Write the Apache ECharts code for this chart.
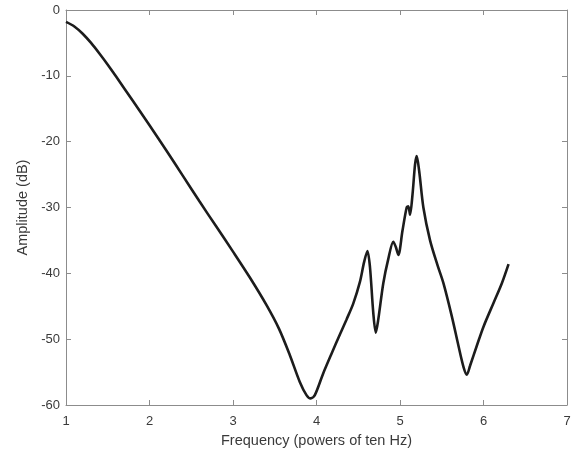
<!DOCTYPE html>
<html>
<head>
<meta charset="utf-8">
<script src="https://cdn.jsdelivr.net/npm/echarts@6/dist/echarts.min.js"></script>
<style>
  html, body { margin: 0; padding: 0; background: #fff; }
  #chart { width: 581px; height: 461px; }
</style>
</head>
<body>
<div id="chart"></div>
<script>
// frequency (log10 Hz) and amplitude (dB)
var freq = [1.0, 1.1, 1.2, 1.3, 1.4, 1.5, 1.6, 1.8, 2.0, 2.2, 2.4, 2.6, 2.8, 3.0, 3.2, 3.4, 3.55, 3.68, 3.8, 3.88, 3.93, 3.98,
  4.08, 4.18, 4.28, 4.36, 4.44, 4.52, 4.57, 4.61, 4.64, 4.68, 4.71, 4.74, 4.8, 4.86, 4.92, 4.95, 4.98,
  5.03, 5.08, 5.1, 5.12, 5.15, 5.18, 5.2, 5.23, 5.28, 5.36, 5.45, 5.52, 5.62, 5.7, 5.76, 5.8, 5.84,
  5.92, 6.0, 6.12, 6.22, 6.3];
var amp = [-1.8, -2.5, -3.6, -5.0, -6.6, -8.3, -10.1, -13.8, -17.5, -21.3, -25.2, -29.1, -32.9, -36.7, -40.6, -44.8, -48.4, -52.4, -56.5, -58.5, -59.0, -58.5,
  -55.2, -52.2, -49.3, -47.0, -44.6, -41.3, -38.3, -36.6, -39.0, -46.0, -49.0, -47.0, -41.5, -37.8, -35.2, -36.0, -37.2,
  -33.5, -30.0, -29.8, -31.1, -28.0, -23.5, -22.2, -24.5, -30.0, -35.0, -38.8, -41.5, -46.5, -51.0, -54.2, -55.4, -54.0,
  -51.0, -48.1, -44.5, -41.5, -38.6];

var axisGrey = '#8c8c8c';
var textGrey = '#3a3a3a';
var font = 'Liberation Sans, Arial, sans-serif';

var points = [];
for (var i = 0; i < freq.length; i++) {
  points.push([freq[i], amp[i]]);
}

// top / right copies of the axes, ticks only (matlab "box on")
function mirror(base) {
  return Object.assign({
    min: base.min, max: base.max, interval: base.interval,
    axisLine: { show: true, onZero: false, lineStyle: { color: axisGrey, width: 1 } },
    axisTick: { show: true, inside: true, length: 5, lineStyle: { color: axisGrey } },
    axisLabel: { show: false },
    splitLine: { show: false }
  }, base.extra || {});
}

var option = {
  animation: false,
  backgroundColor: '#fff',
  grid: { left: 66, right: 14, top: 10, bottom: 56 },
  xAxis: [
    {
      type: 'value', min: 1, max: 7, interval: 1,
      name: 'Frequency (powers of ten Hz)',
      nameLocation: 'middle', nameGap: 28,
      nameTextStyle: { color: textGrey, fontSize: 14.5, fontFamily: font },
      axisLine: { show: true, onZero: false, lineStyle: { color: axisGrey, width: 1 } },
      axisTick: { show: true, inside: true, length: 5, lineStyle: { color: axisGrey } },
      axisLabel: { color: textGrey, fontSize: 13, fontFamily: font, margin: 10 },
      splitLine: { show: false }
    },
    mirror({ min: 1, max: 7, interval: 1, extra: { type: 'value', position: 'top' } })
  ],
  yAxis: [
    {
      type: 'value', min: -60, max: 0, interval: 10,
      name: 'Amplitude (dB)',
      nameLocation: 'middle', nameGap: 36,
      nameTextStyle: { color: textGrey, fontSize: 14.5, fontFamily: font },
      axisLine: { show: true, onZero: false, lineStyle: { color: axisGrey, width: 1 } },
      axisTick: { show: true, inside: true, length: 5, lineStyle: { color: axisGrey } },
      axisLabel: { color: textGrey, fontSize: 13, fontFamily: font, margin: 6 },
      splitLine: { show: false }
    },
    mirror({ min: -60, max: 0, interval: 10, extra: { type: 'value', position: 'right' } })
  ],
  series: [
    {
      type: 'line',
      data: points,
      showSymbol: false,
      smooth: 0.3,
      lineStyle: { color: '#1c1c1c', width: 2.6 }
    }
  ]
};

var myChart = echarts.init(document.getElementById('chart'));
myChart.setOption(option);
</script>
</body>
</html>
